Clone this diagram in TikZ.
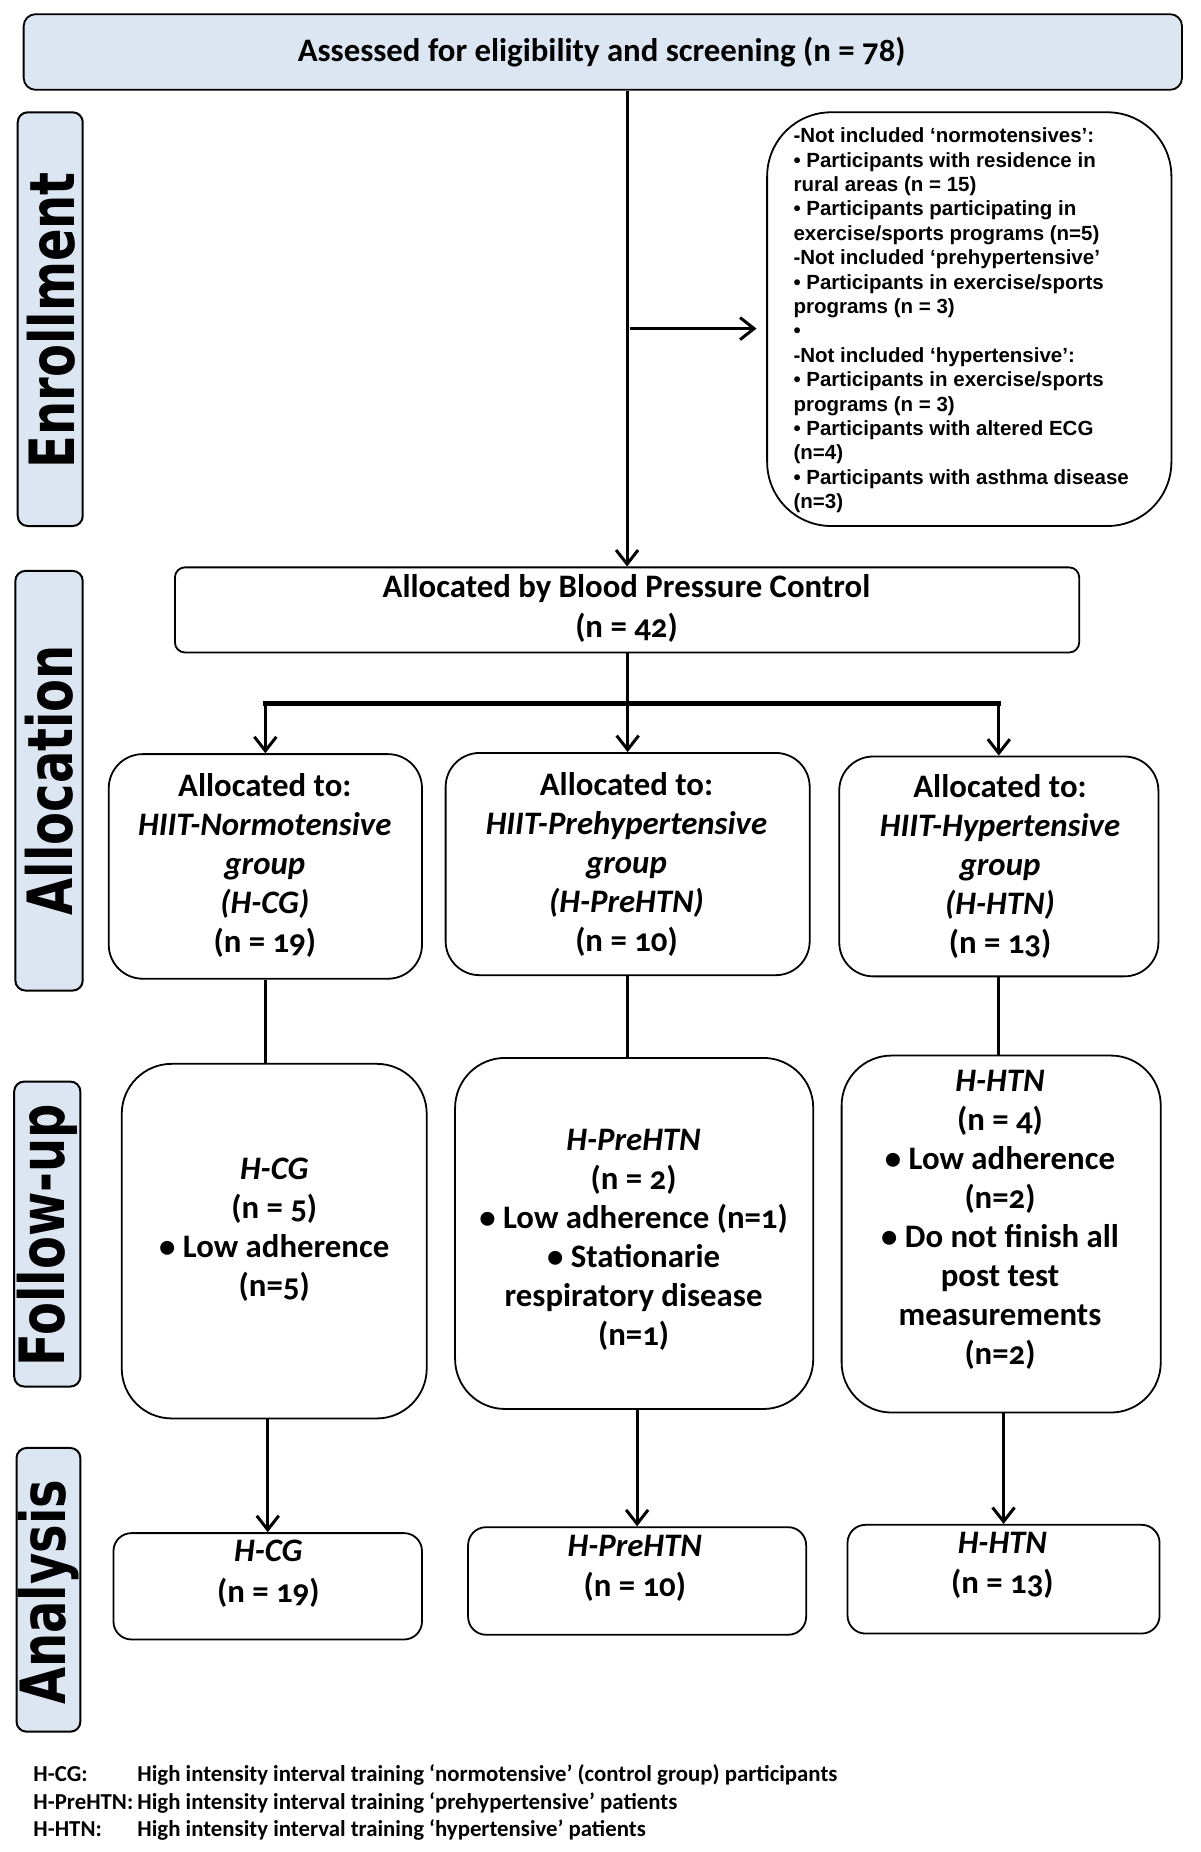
\documentclass[tikz,border=0pt]{standalone}
\usepackage{fontspec}
\setmainfont{Carlito}[Numbers=OldStyle]
\newfontfamily\footf{Carlito}
\newfontfamily\arialf{Liberation Sans}
\newfontfamily\dejaf{DejaVu Sans}
\usetikzlibrary{arrows.meta}
\definecolor{paleblue}{RGB}{220,230,242}
\tikzset{
  sz/.style 2 args={minimum width=#1*0.591pt, minimum height=#2*0.591pt},
  sidelbl/.style={draw=black, line width=1pt, fill=paleblue, rounded corners=5pt, inner sep=0pt},
  sidetxt/.style={rotate=90, inner sep=0pt, font=\dejaf\bfseries\fontsize{24}{24}\selectfont},
  boxb/.style={draw=black, line width=0.9pt, fill=white, inner sep=0pt},
  btxt/.style={align=center, inner sep=0pt, font=\bfseries\fontsize{16.4}{19.5}\selectfont},
  conn/.style={draw=black, line width=1.5pt},
  arr/.style={draw=black, line width=1.5pt, -{Straight Barb[length=7pt,width=11pt,line width=1.5pt]}},
}
\begin{document}
\begin{tikzpicture}[x=0.591pt,y=-0.591pt]
\useasboundingbox (0,0) rectangle (1015.2,1566.8);

% top box
\node[boxb, fill=paleblue, rounded corners=6pt, sz={980}{64}] (top) at (510,44) {};
\node[btxt] (topt) at (509,44) {Assessed for eligibility and screening (n = 78)};

% side labels
\node[sidelbl, sz={55}{350}] (sl1) at (42.5,270) {};
\node[sidetxt] (sl1t) at (43,271) {\scalebox{1}[1.3]{Enrollment}};
\node[sidelbl, sz={57}{355}] (sl2) at (41.5,660.5) {};
\node[sidetxt] (sl2t) at (42,660) {\scalebox{1}[1.3]{Allocation}};
\node[sidelbl, sz={56}{258}] (sl3) at (40,1044) {};
\node[sidetxt] (sl3t) at (40,1045) {\scalebox{1}[1.3]{Follow-up}};
\node[sidelbl, sz={54}{240}] (sl4) at (41,1345) {};
\node[sidetxt] (sl4t) at (41,1347) {\scalebox{1}[1.3]{Analysis}};

% exclusion box
\node[boxb, rounded corners=32pt, sz={342}{350}] (excl) at (820,270) {};
\node[inner sep=0pt, anchor=west, align=left, font=\arialf\bfseries\fontsize{10.25}{12.2}\selectfont] (exclt) at (671,271) {%
-Not included ‘normotensives’:\\
• Participants with residence in\\
rural areas (n = 15)\\
• Participants participating in\\
exercise/sports programs (n=5)\\
-Not included ‘prehypertensive’\\
• Participants in exercise/sports\\
programs (n = 3)\\
•\\
-Not included ‘hypertensive’:\\
• Participants in exercise/sports\\
programs (n = 3)\\
• Participants with altered ECG\\
(n=4)\\
• Participants with asthma disease\\
(n=3)};

% allocation by BP
\node[boxb, rounded corners=5pt, sz={765}{72}] (alloc) at (530.5,516) {};
\node[btxt, font=\bfseries\fontsize{16.4}{20}\selectfont] (alloct) at (530,515) {Allocated by Blood Pressure Control\\(n = 42)};

% group boxes
\node[boxb, rounded corners=17pt, sz={265}{190}] (g1) at (224.5,733) {};
\node[btxt] (g1t) at (224,732) {Allocated to:\\\textit{HIIT-Normotensive}\\\textit{group}\\\textit{(H-CG)}\\(n = 19)};
\node[boxb, rounded corners=17pt, sz={308}{188}] (g2) at (531,731) {};
\node[btxt] (g2t) at (530,731) {Allocated to:\\\textit{HIIT-Prehypertensive}\\\textit{group}\\\textit{(H-PreHTN)}\\(n = 10)};
\node[boxb, rounded corners=17pt, sz={270}{186}] (g3) at (845,733) {};
\node[btxt] (g3t) at (846,733) {Allocated to:\\\textit{HIIT-Hypertensive}\\\textit{group}\\\textit{(H-HTN)}\\(n = 13)};

% follow-up boxes
\node[boxb, rounded corners=25pt, sz={258}{300}] (f1) at (232,1050) {};
\node[btxt] (f1t) at (232,1040) {\textit{H-CG}\\(n = 5)\\• Low adherence\\(n=5)};
\node[boxb, rounded corners=25pt, sz={303}{297}] (f2) at (536.5,1043.5) {};
\node[btxt] (f2t) at (536,1049) {\textit{H-PreHTN}\\(n = 2)\\• Low adherence (n=1)\\• Stationarie\\respiratory disease\\(n=1)};
\node[boxb, rounded corners=25pt, sz={270}{302}] (f3) at (847,1044) {};
\node[btxt] (f3t) at (846,1032) {\textit{H-HTN}\\(n = 4)\\• Low adherence\\(n=2)\\• Do not finish all\\post test\\measurements\\(n=2)};

% analysis boxes
\node[boxb, rounded corners=9pt, sz={261}{90}] (a1) at (226.5,1342) {};
\node[btxt, font=\bfseries\fontsize{16.4}{20.5}\selectfont] (a1t) at (227,1331) {\textit{H-CG}\\(n = 19)};
\node[boxb, rounded corners=9pt, sz={286}{91}] (a2) at (539,1337.5) {};
\node[btxt, font=\bfseries\fontsize{16.4}{20}\selectfont] (a2t) at (537,1326.5) {\textit{H-PreHTN}\\(n = 10)};
\node[boxb, rounded corners=9pt, sz={264}{92}] (a3) at (849,1336) {};
\node[btxt, font=\bfseries\fontsize{16.4}{20}\selectfont] (a3t) at (848,1324) {\textit{H-HTN}\\(n = 13)};

% footer
\node[inner sep=0pt, anchor=west, align=left, font=\footf\bfseries\fontsize{11.4}{13.6}\selectfont] (foot) at (28,1525) {%
\makebox[52pt][l]{H-CG:}High intensity interval training ‘normotensive’ (control group) participants\\
\makebox[52pt][l]{H-PreHTN:}High intensity interval training ‘prehypertensive’ patients\\
\makebox[52pt][l]{H-HTN:}High intensity interval training ‘hypertensive’ patients};

% connectors
\draw[arr] (alloc.north |- top.south) -- (alloc.north);
\coordinate (hx) at (533,278);
\draw[arr] (hx) -- (640,278);
\draw[conn] (alloc.south) -- (530.5,595) coordinate (br);
\draw[draw=black, line width=2.4pt] ([xshift=-1.2pt]g1.north |- br) -- ([xshift=1.2pt]g3.north |- br);
\draw[arr] (g1.north |- br) -- (g1.north);
\draw[arr] (g2.north |- br) -- (g2.north);
\draw[arr] (g3.north |- br) -- (g3.north);
\draw[conn] (g1.south) -- (g1.south |- f1.north);
\draw[conn] (g2.south) -- (g2.south |- f2.north);
\draw[conn] (g3.south) -- (g3.south |- f3.north);
\draw[arr] (a1.north |- f1.south) -- (a1.north);
\draw[arr] (a2.north |- f2.south) -- (a2.north);
\draw[arr] (a3.north |- f3.south) -- (a3.north);
\end{tikzpicture}
\end{document}
